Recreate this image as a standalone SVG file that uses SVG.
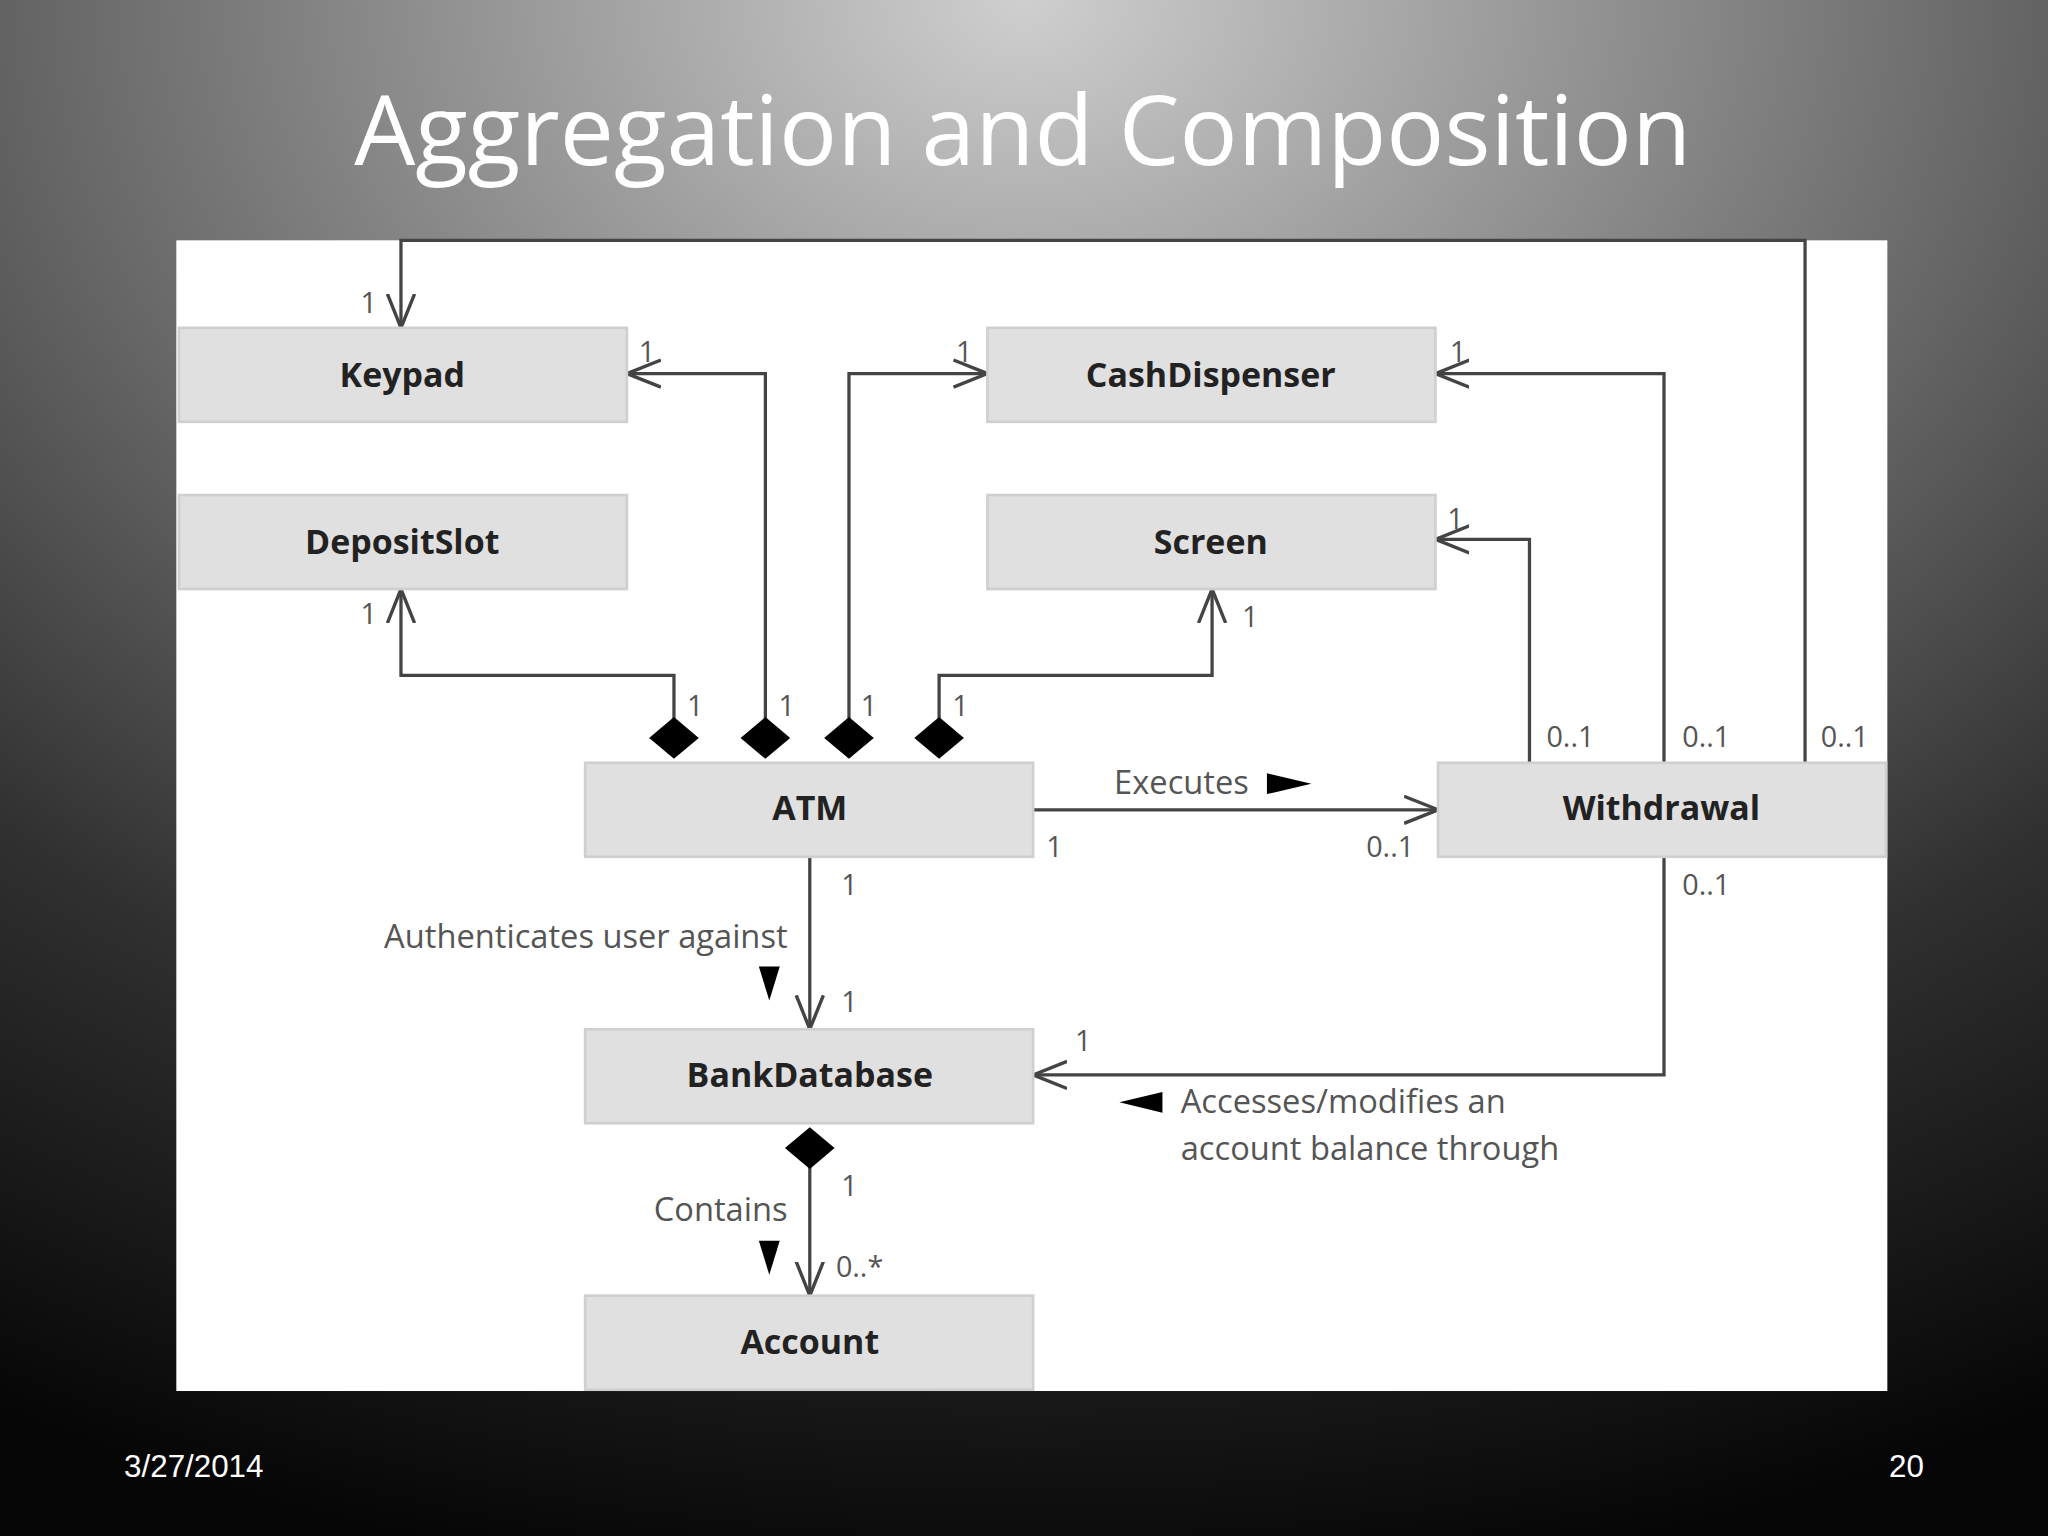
<svg xmlns="http://www.w3.org/2000/svg" width="2048" height="1536" viewBox="0 0 2048 1536">
<defs>
<radialGradient id="bg" cx="0.5" cy="0" r="1.05">
<stop offset="0" stop-color="#cfcfcf"/><stop offset="0.3" stop-color="#8a8a8a"/><stop offset="0.7" stop-color="#303030"/><stop offset="1" stop-color="#050505"/>
</radialGradient>
<marker id="oa" viewBox="0 0 20 20" refX="20" refY="10" markerWidth="26" markerHeight="26" markerUnits="userSpaceOnUse" orient="auto"><path d="M0,2 L20,10 L0,18" fill="none" stroke="#444" stroke-width="2"/></marker>
<style>
.box{fill:#e0e0e0;stroke:#cfcfcf;stroke-width:2}
.nl{font-family:"Open Sans","DejaVu Sans",sans-serif;font-weight:bold;font-size:26px;fill:#222;text-anchor:middle}
.c{fill:none;stroke:#444;stroke-width:2.5}
.m{font-family:"Open Sans","DejaVu Sans",sans-serif;font-size:22px;fill:#555}
.lb{font-family:"Open Sans","DejaVu Sans",sans-serif;font-size:25px;fill:#555}
.d{fill:#000}
</style>
</defs>
<rect width="2048" height="1536" fill="url(#bg)"/>
<g transform="scale(1.30612)">
<text x="783" y="126" font-family="Open Sans, DejaVu Sans, sans-serif" font-size="74" fill="#fff" text-anchor="middle">Aggregation and Composition</text>
<rect x="135" y="184" width="1310" height="881" fill="#fff"/>
<g id="connectors">
<path class="c" marker-end="url(#oa)" d="M1382,584 V184 H307 V251"/>
<path class="c" marker-end="url(#oa)" d="M586,560 V286 H480"/>
<path class="c" marker-end="url(#oa)" d="M650,560 V286 H756"/>
<path class="c" marker-end="url(#oa)" d="M516,560 V517 H307 V451"/>
<path class="c" marker-end="url(#oa)" d="M719,560 V517 H928 V451"/>
<path class="c" marker-end="url(#oa)" d="M1274,584 V286 H1099"/>
<path class="c" marker-end="url(#oa)" d="M1171,584 V413 H1099"/>
<path class="c" marker-end="url(#oa)" d="M791,620 H1101"/>
<path class="c" marker-end="url(#oa)" d="M620,656 V788"/>
<path class="c" marker-end="url(#oa)" d="M1274,656 V823 H791"/>
<path class="c" marker-end="url(#oa)" d="M620,880 V992"/>
<path class="d" d="M516,549 L535,565 L516,581 L497,565Z"/>
<path class="d" d="M586,549 L605,565 L586,581 L567,565Z"/>
<path class="d" d="M650,549 L669,565 L650,581 L631,565Z"/>
<path class="d" d="M719,549 L738,565 L719,581 L700,565Z"/>
<path class="d" d="M620,863 L639,879 L620,895 L601,879Z"/>
<path class="d" d="M970,592 L1004,600 L970,608Z"/>
<path class="d" d="M581,740 L597,740 L589,766Z"/>
<path class="d" d="M581,950 L597,950 L589,976Z"/>
<path class="d" d="M890,836 L857,844 L890,852Z"/>
<text class="m" x="276" y="240">1</text>
<text class="m" x="1394" y="572">0..1</text>
<text class="m" x="489" y="277">1</text>
<text class="m" x="596" y="548">1</text>
<text class="m" x="732" y="277">1</text>
<text class="m" x="659" y="548">1</text>
<text class="m" x="276" y="478">1</text>
<text class="m" x="526" y="548">1</text>
<text class="m" x="951" y="480">1</text>
<text class="m" x="729" y="548">1</text>
<text class="m" x="1110" y="277">1</text>
<text class="m" x="1288" y="572">0..1</text>
<text class="m" x="1108" y="405">1</text>
<text class="m" x="1184" y="572">0..1</text>
<text class="m" x="801" y="656">1</text>
<text class="m" x="1046" y="656">0..1</text>
<text class="m" x="644" y="685">1</text>
<text class="m" x="644" y="775">1</text>
<text class="m" x="1288" y="685">0..1</text>
<text class="m" x="823" y="805">1</text>
<text class="m" x="644" y="916">1</text>
<text class="m" x="640" y="978">0..*</text>
<text class="lb" x="853" y="608">Executes</text>
<text class="lb" x="603" y="726" text-anchor="end">Authenticates user against</text>
<text class="lb" x="904" y="852">Accesses/modifies an</text>
<text class="lb" x="904" y="888">account balance through</text>
<text class="lb" x="603" y="935" text-anchor="end">Contains</text>
</g>
<g id="Keypad"><rect class="box" x="137" y="251" width="343" height="72"/><text class="nl" x="308" y="296">Keypad</text></g>
<g id="CashDispenser"><rect class="box" x="756" y="251" width="343" height="72"/><text class="nl" x="927" y="296">CashDispenser</text></g>
<g id="DepositSlot"><rect class="box" x="137" y="379" width="343" height="72"/><text class="nl" x="308" y="424">DepositSlot</text></g>
<g id="Screen"><rect class="box" x="756" y="379" width="343" height="72"/><text class="nl" x="927" y="424">Screen</text></g>
<g id="ATM"><rect class="box" x="448" y="584" width="343" height="72"/><text class="nl" x="620" y="628">ATM</text></g>
<g id="Withdrawal"><rect class="box" x="1101" y="584" width="343" height="72"/><text class="nl" x="1272" y="628">Withdrawal</text></g>
<g id="BankDatabase"><rect class="box" x="448" y="788" width="343" height="72"/><text class="nl" x="620" y="832">BankDatabase</text></g>
<g id="Account"><rect class="box" x="448" y="992" width="343" height="72"/><text class="nl" x="620" y="1037">Account</text></g>
<text x="95" y="1131" font-family="Liberation Sans, sans-serif" font-size="24" fill="#fff">3/27/2014</text>
<text x="1473" y="1131" font-family="Liberation Sans, sans-serif" font-size="24" fill="#fff" text-anchor="end">20</text>
</g>
</svg>
